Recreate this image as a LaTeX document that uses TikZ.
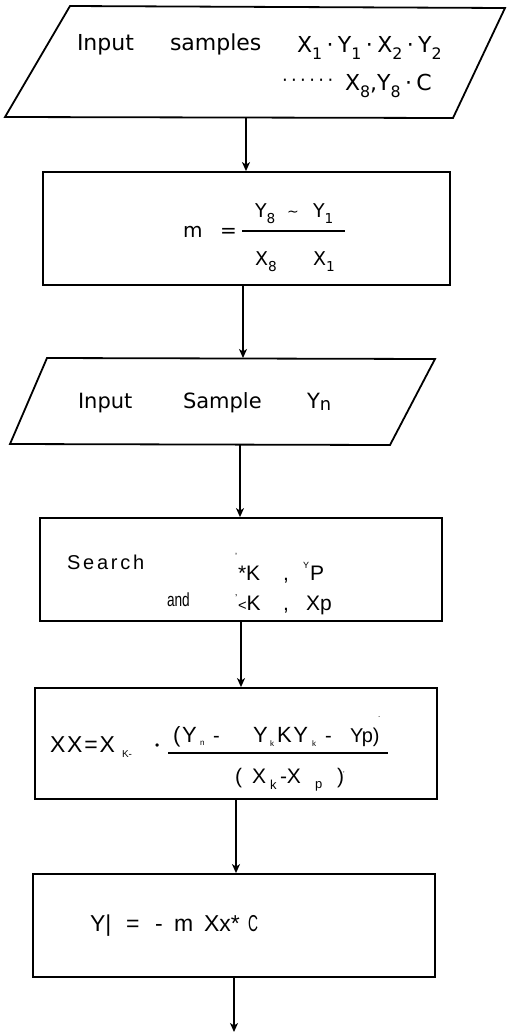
\documentclass[tikz,border=0pt]{standalone}
\usepackage{fontspec}
\usepackage{graphicx}
\setmainfont{Liberation Sans}
\newfontfamily\lett{DejaVu Sans}
\newfontfamily\spaced[LetterSpace=14]{Liberation Sans}
\newfontfamily\spacedb[LetterSpace=8]{Liberation Sans}
\usetikzlibrary{arrows.meta}

% lowered index in the current text font
\newcommand\dn[2][0.72]{\raisebox{-0.32em}{\scalebox{#1}{#2}}}
% separator between the listed samples
\newcommand\sepdot{\hspace{0.2em}·\hspace{0.2em}}

\tikzset{
  box/.style={draw, line width=1.8pt, rectangle, inner sep=0pt},
  io/.style={draw, line width=1.8pt, line join=miter},
  arr/.style={line width=1.4pt, -{Stealth[length=9pt,width=8pt,inset=2.5pt]}},
  txt/.style={anchor=base west, inner sep=0pt, outer sep=0pt},
  lt/.style={txt, font=\lett\fontsize{#1}{#1}\selectfont},
  ar/.style={txt, font=\fontsize{#1}{#1}\selectfont},
  sp/.style={txt, font=\spaced\fontsize{#1}{#1}\selectfont},
  sb/.style={txt, font=\spacedb\fontsize{#1}{#1}\selectfont},
  fr/.style={line width=1.4pt},
}

\begin{document}
\begin{tikzpicture}[x=1pt,y=-1pt]
\useasboundingbox (0,0) rectangle (507,1034);

% ---- input of the calibration samples
\draw[io] (70,6) -- (505,8) -- (453,118) -- (5,117) -- cycle;
\coordinate (p1s) at (246,118);
\node[lt=22] (inA) at (77,50) {Input};
\node[lt=22] (smpA) at (170,50) {samples};
\node[lt=22] (xyA) at (297,52) {X\dn{1}\sepdot Y\dn{1}\sepdot X\dn{2}\sepdot Y\dn{2}};
\node[lt=18] (dotsA) at (282,86) {·\hspace{3.4pt}·\hspace{3.4pt}·\hspace{3.4pt}·\hspace{3.4pt}·\hspace{3.4pt}·};
\node[lt=22] (xyB) at (345,90) {X\dn{8},Y\dn{8}\sepdot C};

% ---- slope
\node[box, minimum width=407pt, minimum height=113pt] (slope) at (246.5,228.5) {};
\node[lt=20] (mm) at (183,237) {m};
\node[lt=20] (eqm) at (220,237) {=};
\draw[fr] (242,231) -- (345,231);
\node[lt=19] (nyA) at (255,217) {Y\dn{8}};
\node[lt=14] (tl) at (287,216) {\textasciitilde};
\node[lt=19] (nyB) at (313,217) {Y\dn{1}};
\node[lt=19] (dxA) at (255,265) {X\dn{8}};
\node[lt=19] (dxB) at (313,265) {X\dn{1}};

% ---- input of the new sample
\draw[io] (47,358) -- (435,359) -- (390,445) -- (10,444) -- cycle;
\coordinate (p2n) at (243,358);
\coordinate (p2s) at (240,445);
\node[lt=21] (inB) at (78,408) {Input};
\node[lt=21] (smpB) at (183,408) {Sample};
\node[lt=21] (yn) at (307,408) {Y\raisebox{-0.12em}{\scalebox{0.85}{n}}};

% ---- search
\node[box, minimum width=402pt, minimum height=103pt] (srch) at (241,569.5) {};
\node[sp=20] (sr) at (67,569) {Search};
\node[ar=9] (apA) at (235,559) {'};
\node[ar=21] (ka) at (238,580) {*K};
\node[ar=21] (ca) at (283,580) {,};
\node[ar=9] (ys) at (303,568) {Y};
\node[ar=21] (pp) at (310,580) {P};
\node[ar=19] (andw) at (167,606) {\scalebox{0.72}[1]{and}};
\node[ar=10] (apB) at (235,601) {'};
\node[ar=21] (kb) at (238,610) {\scalebox{0.7}{<}K};
\node[ar=21] (cb) at (283,610) {,};
\node[ar=21] (xp) at (306,610) {Xp};

% ---- interpolation
\node[box, minimum width=402pt, minimum height=111pt] (interp) at (236,743.5) {};
\node[sb=23] (xx) at (50,752) {XX=X};
\node[ar=10] (ks) at (122,757) {K-};
\node[ar=12] (bul) at (155,749) {•};
\node[sb=22] (nA) at (173,742) {(Y};
\node[ar=8] (nAs) at (200,745) {n};
\node[ar=20] (nB) at (213,742) {-};
\node[sb=22] (nC) at (253,742) {Y};
\node[ar=8] (nCs) at (270,746) {k};
\node[sb=22] (nD) at (277,742) {KY};
\node[ar=8] (nDs) at (312,746) {k};
\node[ar=20] (nE) at (325,742) {-};
\node[ar=20] (nF) at (350,742) {Yp)};
\node[ar=8] (dotF) at (378,717) {.};
\draw[line width=2pt] (168,753) -- (388,753);
\node[ar=21] (dA) at (235,783) {(};
\node[ar=21] (dB) at (252,783) {X};
\node[ar=13] (dBs) at (270,789) {k};
\node[ar=21] (dC) at (280,783) {-X};
\node[ar=13] (dCs) at (315,788) {p};
\node[ar=21] (dD) at (337,783) {)};
\node[ar=7] (apD) at (343,776) {'};

% ---- output
\node[box, minimum width=402pt, minimum height=103pt] (outp) at (234,925.5) {};
\node[ar=23] (oY) at (90,931) {Y|};
\node[ar=23] (oEq) at (126,931) {=};
\node[ar=23] (oMin) at (155,931) {-};
\node[ar=23] (oM) at (174,931) {m};
\node[ar=23] (oX) at (204,931) {Xx*};
\node[ar=23] (oC) at (248,931) {\scalebox{0.6}[1]{C}};
\coordinate (endpt) at (234,1032);

% ---- flow
\draw[arr] (p1s) -- (p1s |- slope.north);
\draw[arr] (slope.south -| p2n) -- (p2n);
\draw[arr] (p2s) -- (p2s |- srch.north);
\draw[arr] (srch.south) -- (srch.south |- interp.north);
\draw[arr] (interp.south) -- (interp.south |- outp.north);
\draw[arr] (outp.south) -- (endpt);
\end{tikzpicture}
\end{document}
